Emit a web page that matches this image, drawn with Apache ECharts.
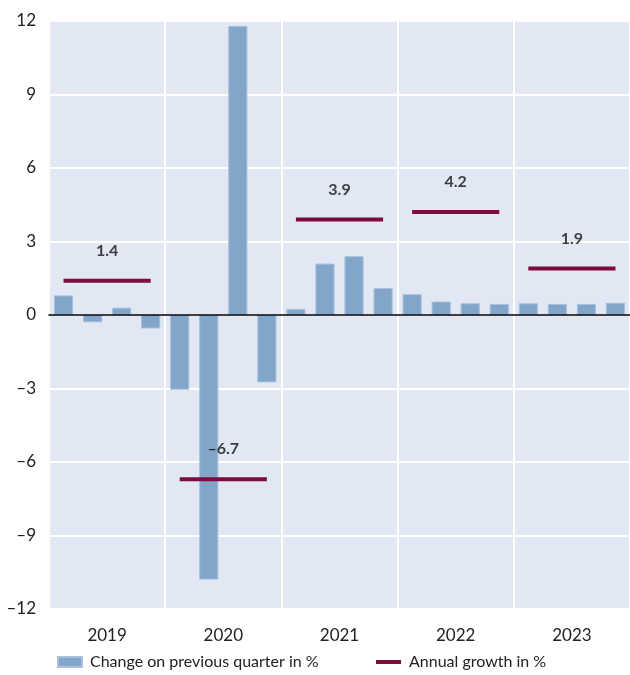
<!DOCTYPE html>
<html>
<head>
<meta charset="utf-8">
<script src="https://cdn.jsdelivr.net/npm/echarts@6/dist/echarts.min.js"></script>
<style>
  html, body { margin: 0; padding: 0; background: #fff; }
  #main { width: 630px; height: 675px; }
</style>
</head>
<body>
<div id="main"></div>
<script>
// data
var years = ['2019', '2020', '2021', '2022', '2023'];
var quarters = [];
years.forEach(function (y) { for (var q = 1; q <= 4; q++) quarters.push(y + 'Q' + q); });

// change on previous quarter in %
var quarterly = [0.8, -0.3, 0.3, -0.55,
                 -3.05, -10.8, 11.8, -2.75,
                 0.25, 2.1, 2.4, 1.1,
                 0.85, 0.55, 0.48, 0.45,
                 0.48, 0.45, 0.45, 0.5];
// annual growth in %
var annual = [1.4, -6.7, 3.9, 4.2, 1.9];

var dash = function (v) { return String(v).replace('-', '\u2013'); };
var font = 'Lato';
var maroon = '#7d0b3d';

var chart = echarts.init(document.getElementById('main'));

var series = [{
  name: 'Change on previous quarter in %',
  type: 'bar',
  xAxisIndex: 0,
  barWidth: '66%',
  itemStyle: { color: '#82a5ca', borderColor: '#a9c1dd', borderWidth: 1 },
  data: quarterly,
  z: 2
}];

// one short line per year, from Q1 to Q4
annual.forEach(function (v, i) {
  var d = quarters.map(function (q, k) { return Math.floor(k / 4) === i ? v : null; });
  series.push({
    name: 'Annual growth in %',
    type: 'line',
    xAxisIndex: 0,
    symbol: 'none',
    lineStyle: { color: maroon, width: 4 },
    itemStyle: { color: maroon },
    data: d,
    z: 4
  });
});

// value labels centred on each year
series.push({
  type: 'scatter',
  xAxisIndex: 1,
  symbolSize: 0,
  itemStyle: { color: 'transparent' },
  silent: true,
  label: {
    show: true,
    position: 'top',
    distance: 22,
    color: '#111',
    fontFamily: font,
    fontSize: 16,
    fontWeight: 'bold',
    formatter: function (p) { return dash(p.value.toFixed(1)); }
  },
  data: annual,
  z: 5
});

var legendText = { fontFamily: font, fontSize: 16, color: '#222', padding: [0, 0, 0, 3] };

var option = {
  animation: false,
  grid: {
    left: 49, right: 0, top: 21, bottom: 66,
    show: true, backgroundColor: '#e1e8f4', borderWidth: 0
  },
  legend: [{
    bottom: 0,
    left: 52,
    itemWidth: 24,
    itemHeight: 10,
    textStyle: legendText,
    data: [{ name: 'Change on previous quarter in %', icon: 'rect' }]
  }, {
    bottom: 0,
    left: 371,
    itemWidth: 25,
    itemHeight: 4,
    textStyle: legendText,
    data: [{ name: 'Annual growth in %', icon: 'rect', itemStyle: { color: maroon } }]
  }],
  xAxis: [{
    type: 'category',
    data: quarters,
    axisLine: { show: true, onZero: true, lineStyle: { color: '#000', width: 1.5 } },
    axisTick: { show: false },
    axisLabel: { show: false },
    splitLine: { show: false },
    z: 3
  }, {
    type: 'category',
    data: years,
    position: 'bottom',
    axisLine: { show: false, onZero: false },
    axisTick: { show: false },
    axisLabel: { margin: 18, fontFamily: font, fontSize: 17, color: '#222' },
    splitLine: { show: true, lineStyle: { color: '#fff', width: 2 } }
  }],
  yAxis: {
    type: 'value',
    min: -12, max: 12, interval: 3,
    axisLine: { show: false },
    axisTick: { show: false },
    axisLabel: { margin: 13, fontFamily: font, fontSize: 17, color: '#222', formatter: dash },
    splitLine: { lineStyle: { color: '#fff', width: 2 } }
  },
  series: series
};

chart.setOption(option);
</script>
</body>
</html>
